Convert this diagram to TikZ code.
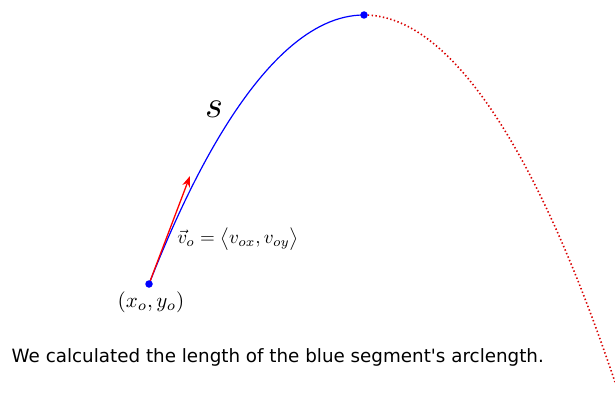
\documentclass[tikz,border=0pt]{standalone}
\usepackage{graphicx}
\usepackage{fontspec}
\newfontfamily\capfont{DejaVu Sans}
\usetikzlibrary{arrows.meta}
\begin{document}
\begin{tikzpicture}[x=1pt,y=-1pt,
  dotpt/.style={circle,fill=blue,inner sep=0pt,minimum size=7.5pt},
  arcblue/.style={blue,line width=1.2pt},
  arcred/.style={red!85!black,line width=1.6pt,dash pattern=on 1.4pt off 2.4pt},
  vel/.style={red,line width=1.3pt,-{Stealth[length=11pt,width=8pt]}},
  lbl/.style={inner sep=0pt}]
\useasboundingbox (0,0) rectangle (615,396);
\coordinate (A) at (149,284);
\coordinate (T) at (364,15);
\coordinate (E) at (615,382);
\coordinate (V) at (190,176);
\draw[arcblue] (A) parabola[bend at end] (T);
\draw[arcred] (T) parabola[bend at start] (E);
\draw[vel] (A) -- (V);
\node[dotpt] (a) at (A) {};
\node[dotpt] (t) at (T) {};
\node[lbl] (s) at (214,109) {\scalebox{3.8}{$s$}};
\node[lbl] (v) at (238,239) {\scalebox{1.9}{$\vec{v}_o=\big\langle v_{ox},v_{oy}\big\rangle$}};
\node[lbl] (xy) at (151,302) {\scalebox{2.1}{$(x_o,y_o)$}};
\node[lbl,anchor=base west] (cap) at (11.5,362) {\capfont\fontsize{18.3}{22}\selectfont We calculated the length of the blue segment's arclength.};
\end{tikzpicture}
\end{document}
